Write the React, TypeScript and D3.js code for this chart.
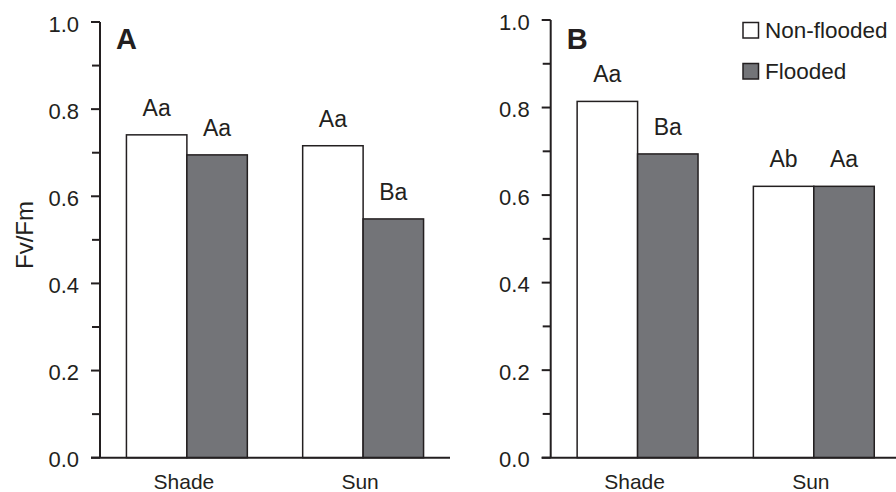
import React from "react";
import * as d3 from "d3";

const categories = ["Shade", "Sun"];
const seriesNames = ["Non-flooded", "Flooded"];

const panelA_nonFlooded = [0.741, 0.716];
const panelA_flooded = [0.695, 0.548];
const panelB_nonFlooded = [0.814, 0.62];
const panelB_flooded = [0.694, 0.62];

const lettersA_nonFlooded = ["Aa", "Aa"];
const lettersA_flooded = ["Aa", "Ba"];
const lettersB_nonFlooded = ["Aa", "Ab"];
const lettersB_flooded = ["Ba", "Aa"];

const majorTicks = [0, 0.2, 0.4, 0.6, 0.8, 1.0];
const minorTicks = [0.1, 0.3, 0.5, 0.7, 0.9];

const INK = "#231f20";
const GRAY = "#737478";
const FONT = "'Liberation Sans', Arial, Helvetica, sans-serif";

type PanelProps = {
  axisX: number;
  top: number;
  bottom: number;
  xEnd: number;
  nf: number[];
  fl: number[];
  lnf: string[];
  lfl: string[];
  letter: string;
  showTitle: boolean;
};

function Panel({ axisX, top, bottom, xEnd, nf, fl, lnf, lfl, letter, showTitle }: PanelProps) {
  const y = d3.scaleLinear().domain([0, 1]).range([bottom, top]);
  const x = d3
    .scaleBand<string>()
    .domain(categories)
    .range([axisX, axisX + 350])
    .paddingInner(0.314)
    .paddingOuter(0.15);
  const sub = d3.scaleBand<string>().domain(seriesNames).range([0, x.bandwidth()]);
  const vals = [nf, fl];
  const lets = [lnf, lfl];
  const fills = ["#ffffff", GRAY];

  return (
    <g>
      {/* bars */}
      {categories.map((c, ci) =>
        seriesNames.map((s, si) => {
          const v = vals[si][ci];
          const bx = (x(c) as number) + (sub(s) as number);
          return (
            <rect
              key={c + s}
              x={bx}
              y={y(v)}
              width={sub.bandwidth()}
              height={y(0) - y(v)}
              fill={fills[si]}
              stroke={INK}
              strokeWidth={1.5}
            />
          );
        })
      )}
      {/* significance letters */}
      {categories.map((c, ci) =>
        seriesNames.map((s, si) => {
          const v = vals[si][ci];
          const cx = (x(c) as number) + (sub(s) as number) + sub.bandwidth() / 2;
          return (
            <text
              key={"l" + c + s}
              x={cx}
              y={y(v) - 19}
              textAnchor="middle"
              fontSize={23}
              fill={INK}
              fontFamily={FONT}
            >
              {lets[si][ci]}
            </text>
          );
        })
      )}
      {/* y axis */}
      <line x1={axisX} x2={axisX} y1={top} y2={bottom} stroke={INK} strokeWidth={2} />
      {majorTicks.map((t) => (
        <g key={"mt" + t}>
          <line x1={axisX - 9} x2={axisX} y1={y(t)} y2={y(t)} stroke={INK} strokeWidth={2} />
          <text
            x={axisX - 21}
            y={y(t) + 2}
            textAnchor="end"
            dominantBaseline="central"
            fontSize={22}
            fill={INK}
            fontFamily={FONT}
          >
            {t.toFixed(1)}
          </text>
        </g>
      ))}
      {minorTicks.map((t) => (
        <line key={"nt" + t} x1={axisX - 8} x2={axisX} y1={y(t)} y2={y(t)} stroke={INK} strokeWidth={2} />
      ))}
      {/* x axis */}
      <line x1={axisX - 9} x2={xEnd} y1={bottom} y2={bottom} stroke={INK} strokeWidth={2} />
      {categories.map((c) => (
        <text
          key={"c" + c}
          x={(x(c) as number) + x.bandwidth() / 2 - 3}
          y={489}
          textAnchor="middle"
          fontSize={21}
          fill={INK}
          fontFamily={FONT}
        >
          {c}
        </text>
      ))}
      {/* panel letter */}
      <text x={axisX + 16} y={49} fontSize={29} fontWeight="bold" fill={INK} fontFamily={FONT}>
        {letter}
      </text>
      {showTitle && (
        <text
          transform={`translate(33,235) rotate(-90)`}
          textAnchor="middle"
          fontSize={24}
          fill={INK}
          fontFamily={FONT}
        >
          Fv/Fm
        </text>
      )}
    </g>
  );
}

export default function App() {
  const legendFills = ["#ffffff", GRAY];
  const legendY = d3.scalePoint<string>().domain(seriesNames).range([38, 79]);
  return (
    <svg
      width={896}
      height={492}
      viewBox="0 0 896 492"
      style={{ position: "absolute", left: 0, top: 0, background: "#ffffff" }}
    >
      <rect x={0} y={0} width={896} height={492} fill="#ffffff" />
      <Panel
        axisX={100}
        top={22}
        bottom={457.7}
        xEnd={450}
        nf={panelA_nonFlooded}
        fl={panelA_flooded}
        lnf={lettersA_nonFlooded}
        lfl={lettersA_flooded}
        letter="A"
        showTitle={true}
      />
      <Panel
        axisX={550.7}
        top={20}
        bottom={457.7}
        xEnd={896}
        nf={panelB_nonFlooded}
        fl={panelB_flooded}
        lnf={lettersB_nonFlooded}
        lfl={lettersB_flooded}
        letter="B"
        showTitle={false}
      />
      {/* legend */}
      {seriesNames.map((s, i) => {
        const by = legendY(s) as number;
        return (
          <g key={"lg" + s}>
            <rect
              x={743}
              y={by - 15.5}
              width={15.5}
              height={15.5}
              fill={legendFills[i]}
              stroke={INK}
              strokeWidth={1.5}
            />
            <text x={765} y={by} fontSize={22.5} fill={INK} fontFamily={FONT}>
              {s}
            </text>
          </g>
        );
      })}
    </svg>
  );
}
